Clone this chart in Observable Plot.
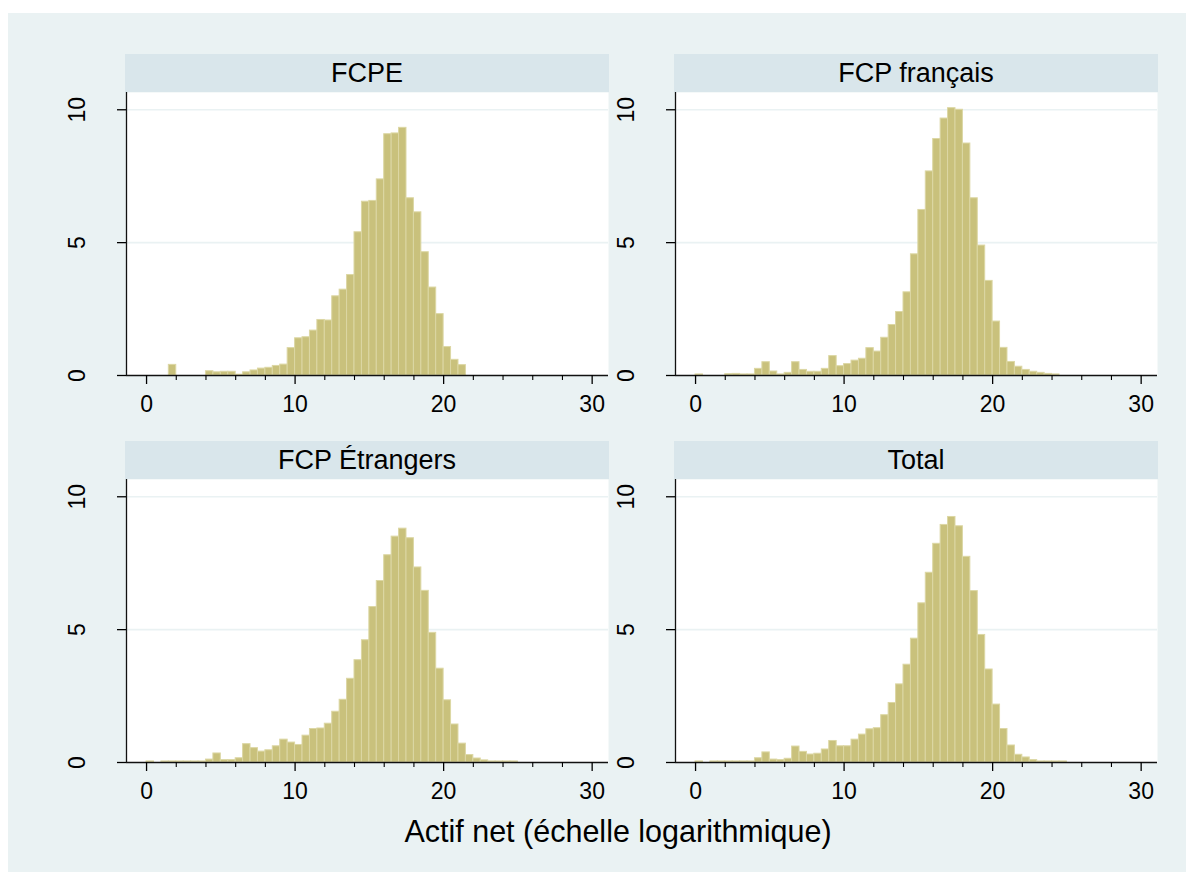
<!DOCTYPE html>
<html>
<head>
<meta charset="utf-8">
<script src="https://cdn.jsdelivr.net/npm/d3@7"></script>
<script src="https://cdn.jsdelivr.net/npm/@observablehq/plot@0.6"></script>
<style>
  body { margin: 0; background: #ffffff; }
  #wrap { position: relative; width: 1186px; height: 872px; overflow: hidden; font-family: "Liberation Sans", Arial, sans-serif; }
  #bg { position: absolute; left: 8px; top: 13px; right: 0; bottom: 0; background: #eaf2f3; }
  .strip { position: absolute; background: #d9e6eb; color: #000; font-size: 27px; display: flex; align-items: center; justify-content: center; }
  .panel { position: absolute; }
  #xtitle { position: absolute; left: 318px; width: 600px; text-align: center; font-size: 30.5px; line-height: 30px; color: #000; }
</style>
</head>
<body>
<div id="wrap">
  <div id="bg"></div>
</div>
<script>
// ---- data (percent density per bin of width 0.5) ----
const panelNames = ["FCPE", "FCP français", "FCP Étrangers", "Total"];
const binLeft = [0,0.5,1,1.5,2,2.5,3,3.5,4,4.5,5,5.5,6,6.5,7,7.5,8,8.5,9,9.5,
  10,10.5,11,11.5,12,12.5,13,13.5,14,14.5,15,15.5,16,16.5,17,17.5,18,18.5,19,19.5,
  20,20.5,21,21.5,22,22.5,23,23.5,24,24.5];
const binWidth = 0.5;
const fcpe = [0,0,0,0.40,0,0,0,0,0.16,0.12,0.14,0.14,0.03,0.12,0.19,0.26,0.29,0.36,0.41,1.03,
  1.40,1.44,1.69,2.09,2.07,2.98,3.23,3.78,5.39,6.54,6.57,7.38,9.08,9.11,9.32,6.67,6.14,4.64,3.31,2.31,
  1.07,0.59,0.39,0,0,0,0,0,0,0];
const fcpFrancais = [0.04,0,0,0,0.05,0.06,0.04,0.04,0.25,0.50,0.15,0.04,0.10,0.50,0.21,0.14,0.14,0.25,0.73,0.35,
  0.43,0.56,0.63,1.03,0.90,1.42,1.90,2.39,3.13,4.56,6.23,7.68,8.90,9.67,10.06,10.0,8.73,6.67,4.89,3.56,
  2.03,1.04,0.51,0.33,0.21,0.14,0.10,0.06,0.04,0];
const fcpEtrangers = [0.04,0,0.04,0.04,0.04,0.04,0.04,0.04,0.11,0.34,0.09,0.09,0.16,0.69,0.54,0.41,0.46,0.61,0.86,0.75,
  0.66,1.01,1.26,1.28,1.46,1.91,2.36,3.15,3.85,4.60,5.85,6.83,7.80,8.50,8.80,8.44,7.34,6.46,4.88,3.53,
  2.34,1.43,0.71,0.28,0.15,0.08,0.04,0.04,0.04,0.04];
const total = [0.04,0,0.04,0.04,0.04,0.04,0.04,0.04,0.16,0.38,0.11,0.09,0.14,0.60,0.40,0.30,0.33,0.49,0.81,0.61,
  0.61,0.86,1.05,1.25,1.29,1.78,2.24,2.94,3.68,4.66,5.99,7.14,8.23,8.94,9.24,8.89,7.74,6.45,4.80,3.50,
  2.18,1.26,0.64,0.29,0.19,0.09,0.04,0.04,0.04,0.04];
const xMajorTicks = [0, 10, 20, 30];
const xMinorTicks = [2, 4, 6, 8, 12, 14, 16, 18, 22, 24, 26, 28];
const yTicks = [0, 5, 10];
const yGrid = [5, 10];
const xTitle = "Actif net (échelle logarithmique)";

// ---- layout ----
const xDomain = [-1.35, 31.1];
const yDomain = [0, 10.65];
const plotW = 482, plotH = 283;
const mL = 100, mR = 20, mB = 50;
const panels = [
  {name: panelNames[0], values: fcpe, left: 126, top: 92},
  {name: panelNames[1], values: fcpFrancais, left: 675, top: 92},
  {name: panelNames[2], values: fcpEtrangers, left: 126, top: 479},
  {name: panelNames[3], values: total, left: 675, top: 479}
];

const wrap = document.getElementById("wrap");

for (const p of panels) {
  const data = binLeft.map((x, i) => ({x1: x, x2: x + binWidth, v: p.values[i]})).filter(d => d.v > 0);

  const strip = document.createElement("div");
  strip.className = "strip";
  strip.style.left = (p.left - 1) + "px";
  strip.style.top = (p.top - 38) + "px";
  strip.style.width = (plotW + 2) + "px";
  strip.style.height = "38px";
  strip.textContent = p.name;
  wrap.appendChild(strip);

  const chart = Plot.plot({
    width: mL + plotW + mR,
    height: plotH + mB,
    marginLeft: mL, marginRight: mR, marginTop: 0, marginBottom: mB,
    style: {background: "transparent", fontFamily: "'Liberation Sans', Arial, sans-serif", fontSize: "23px", color: "#000", overflow: "visible"},
    x: {domain: xDomain, label: null},
    y: {domain: yDomain, label: null},
    marks: [
      Plot.frame({fill: "white"}),
      Plot.ruleY(yGrid, {stroke: "#eaf2f3", strokeWidth: 1.6}),
      Plot.rectY(data, {x1: "x1", x2: "x2", y: "v", fill: "#c9c17c", stroke: "#dcd7a4", strokeWidth: 1}),
      Plot.ruleY([0], {stroke: "#111", strokeWidth: 1.3}),
      Plot.ruleX([xDomain[0]], {stroke: "#111", strokeWidth: 1.3}),
      Plot.axisX(xMajorTicks, {tickSize: 9, tickPadding: 11, strokeWidth: 1.3, label: null, fontSize: 23}),
      Plot.axisX(xMinorTicks, {tickSize: 5, tickFormat: () => "", strokeWidth: 1.1, label: null}),
      Plot.axisY(yTicks, {tickSize: 9, tickPadding: 33, tickRotate: -90, strokeWidth: 1.3, label: null, fontSize: 23})
    ]
  });
  chart.classList.add("panel");
  chart.style.left = (p.left - mL) + "px";
  chart.style.top = p.top + "px";
  wrap.appendChild(chart);
}

const t = document.createElement("div");
t.id = "xtitle";
t.style.top = "816px";
t.textContent = xTitle;
wrap.appendChild(t);
</script>
</body>
</html>
